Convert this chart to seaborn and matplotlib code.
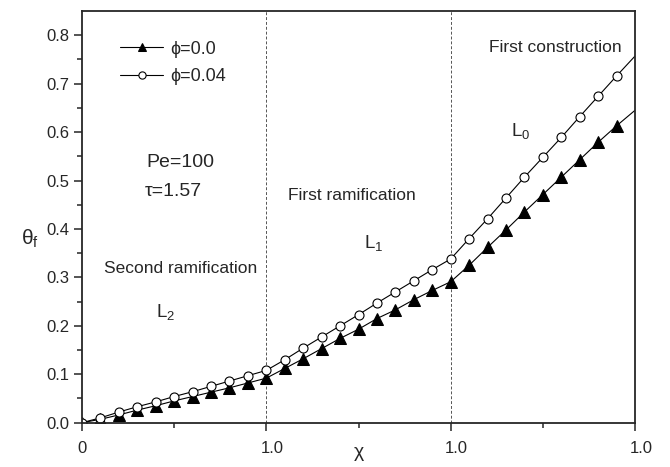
import numpy as np
import pandas as pd
import matplotlib
matplotlib.use("Agg")
import matplotlib.pyplot as plt
from matplotlib.transforms import ScaledTranslation
import seaborn as sns

sns.set_style("ticks")
plt.rcParams["font.family"] = ["Liberation Sans", "DejaVu Sans"]
plt.rcParams["mathtext.default"] = "regular"

# Dimensionless position along the tree: three unit-length segments (L2, L1, L0)
chi = [0.0, 0.1, 0.2, 0.3, 0.4, 0.5, 0.6, 0.7, 0.8, 0.9, 1.0,
       1.1, 1.2, 1.3, 1.4, 1.5, 1.6, 1.7, 1.8, 1.9, 2.0,
       2.1, 2.2, 2.3, 2.4, 2.5, 2.6, 2.7, 2.8, 2.9, 3.0]

# Fluid temperature, phi = 0.0
theta_phi00 = [0.000, 0.007, 0.016, 0.026, 0.035, 0.045, 0.054, 0.063, 0.072, 0.082, 0.092,
               0.112, 0.132, 0.153, 0.174, 0.193, 0.215, 0.233, 0.254, 0.273, 0.291,
               0.325, 0.362, 0.398, 0.435, 0.471, 0.507, 0.543, 0.579, 0.613, 0.645]

# Fluid temperature, phi = 0.04
theta_phi04 = [0.000, 0.010, 0.022, 0.033, 0.043, 0.054, 0.064, 0.075, 0.086, 0.097, 0.108,
               0.130, 0.154, 0.177, 0.200, 0.223, 0.247, 0.270, 0.293, 0.316, 0.338,
               0.380, 0.421, 0.464, 0.507, 0.548, 0.589, 0.632, 0.674, 0.716, 0.757]

series_labels = ["ϕ=0.0", "ϕ=0.04"]
x_tick_values = [0, 1, 2, 3]
x_tick_labels = ["0", "1.0", "1.0", "1.0"]
y_tick_values = [0.0, 0.1, 0.2, 0.3, 0.4, 0.5, 0.6, 0.7, 0.8]

df = pd.DataFrame({"chi": chi, "phi00": theta_phi00, "phi04": theta_phi04})

fig = plt.figure(figsize=(6.7, 4.67), dpi=100)
ax = fig.add_axes([0.1224, 0.0949, 0.8254, 0.8815])

marks = list(range(len(chi) - 1))
sns.lineplot(data=df, x="chi", y="phi00", ax=ax, color="black", lw=0.8,
             marker="^", markersize=8, markerfacecolor="black",
             markeredgecolor="black", markevery=marks, label=series_labels[0])
sns.lineplot(data=df, x="chi", y="phi04", ax=ax, color="black", lw=0.8,
             marker="o", markersize=6.5, markerfacecolor="white",
             markeredgecolor="black", markeredgewidth=0.8, markevery=marks,
             label=series_labels[1])

# Segment boundaries
for xb in (1, 2):
    ax.axvline(xb, color="#555555", lw=0.7, ls=(0, (3, 2)), zorder=0)

ax.set_xlim(0, 3)
ax.set_ylim(0, 0.85)
ax.set_xticks(x_tick_values)
ax.set_xticklabels(x_tick_labels)
ax.set_xticks([0.5, 1.5, 2.5], minor=True)
ax.set_yticks(y_tick_values)
ax.set_yticklabels([f"{v:.1f}" for v in y_tick_values])
ax.set_yticks(np.arange(0.05, 0.85, 0.1), minor=True)

ax.tick_params(axis="both", which="major", direction="out", length=5.5, width=1.1,
               labelsize=12, top=False, right=False)
ax.tick_params(axis="x", which="major", pad=8)
ax.tick_params(axis="y", which="major", pad=3.5)
ax.tick_params(axis="both", which="minor", direction="out", length=3.5, width=1.1,
               top=False, right=False)
for s in ax.spines.values():
    s.set_linewidth(1.3)
    s.set_visible(True)

# the "1.0" labels sit slightly right of their ticks
shift = ScaledTranslation(6 / 100, 0, fig.dpi_scale_trans)
for lab in ax.get_xticklabels()[1:]:
    lab.set_transform(lab.get_transform() + shift)

ax.set_xlabel("χ", fontsize=14)
ax.xaxis.set_label_coords(0.5, -0.052)
ax.set_ylabel(r"$\mathregular{θ_f}$", fontsize=15, rotation=0, va="center", ha="center")
ax.yaxis.set_label_coords(-0.095, 0.447)

fs = 12.5
ax.text(2.566, 0.775, "First construction", fontsize=fs, ha="center", va="center")
ax.text(2.377, 0.603, r"$\mathregular{L_0}$", fontsize=13.5, ha="center", va="center")
ax.text(1.465, 0.469, "First ramification", fontsize=fs, ha="center", va="center")
ax.text(1.58, 0.371, r"$\mathregular{L_1}$", fontsize=13.5, ha="center", va="center")
ax.text(0.537, 0.319, "Second ramification", fontsize=fs, ha="center", va="center")
ax.text(0.456, 0.228, r"$\mathregular{L_2}$", fontsize=13.5, ha="center", va="center")
ax.text(0.35, 0.537, "Pe=100", fontsize=14, ha="left", va="center")
ax.text(0.34, 0.478, "τ=1.57", fontsize=14, ha="left", va="center")

leg = ax.legend(loc="upper left", bbox_to_anchor=(0.069, 0.928), frameon=False,
                fontsize=13, handlelength=2.4, handletextpad=0.35, markerscale=0.8,
                borderpad=0, borderaxespad=0, labelspacing=0.58)

fig.savefig("out.png", dpi=100)
